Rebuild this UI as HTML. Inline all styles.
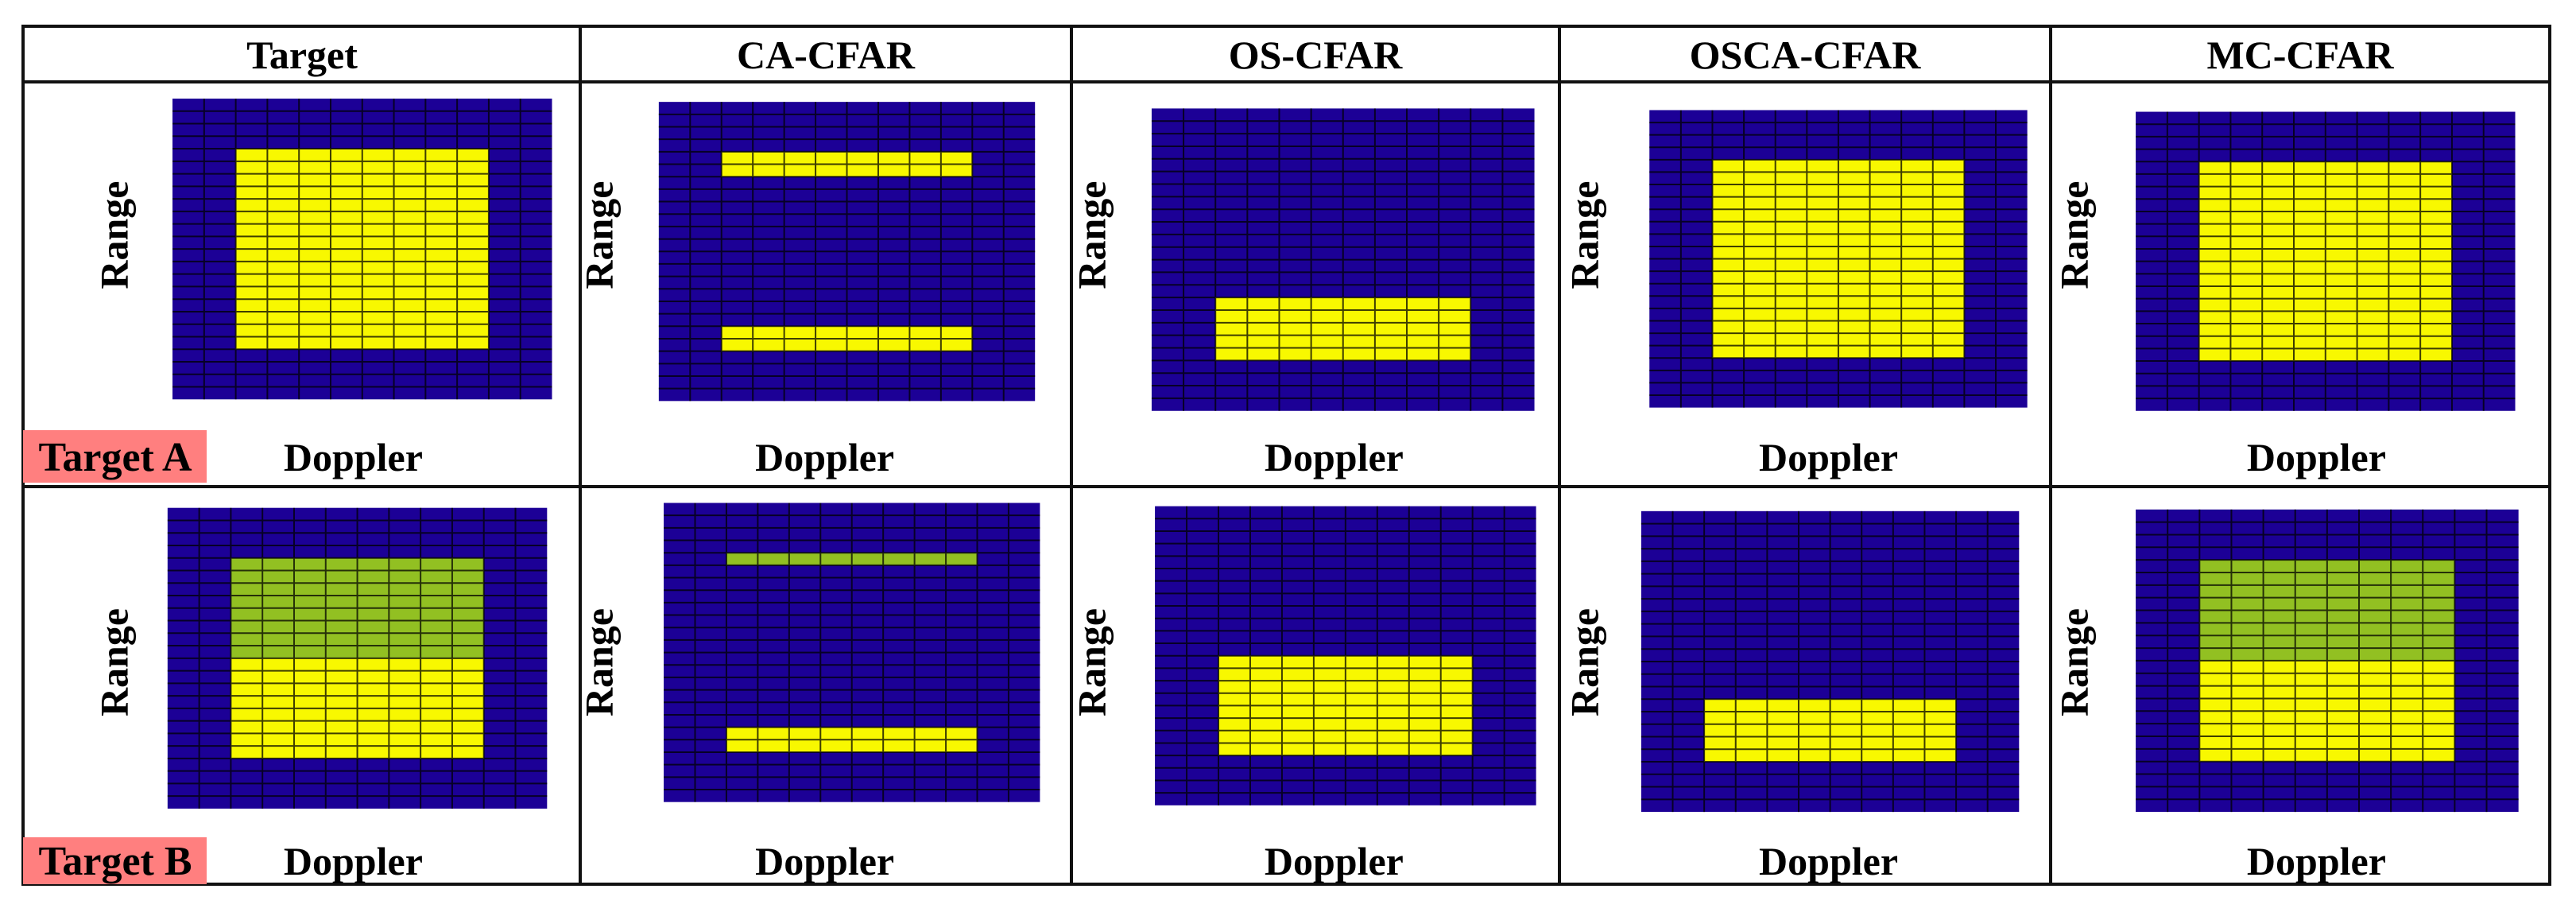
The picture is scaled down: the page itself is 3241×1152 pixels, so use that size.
<!DOCTYPE html>
<html><head><meta charset="utf-8"><style>
html,body{margin:0;padding:0;background:#fff;}
svg{display:block;}
text{font-family:"Liberation Serif",serif;font-weight:bold;fill:#000;}
</style></head><body>
<svg id="chart" width="3241" height="1152" viewBox="0 0 3241 1152" xmlns="http://www.w3.org/2000/svg">
<rect x="0" y="0" width="3241" height="1152" fill="#fff"/>
<g id="table" stroke="#111" stroke-width="4" fill="none">
<rect x="29" y="33" width="3179" height="1079"/>
<line x1="29" y1="103" x2="3208" y2="103"/>
<line x1="29" y1="612" x2="3208" y2="612"/>
<line x1="730" y1="33" x2="730" y2="1112"/>
<line x1="1348" y1="33" x2="1348" y2="1112"/>
<line x1="1962" y1="33" x2="1962" y2="1112"/>
<line x1="2580" y1="33" x2="2580" y2="1112"/>
</g>
<g id="headers"></g>
<g id="panels"></g>
<g id="badges">
<rect x="29" y="541" width="231" height="66" fill="#ff7f7f"/>
<text x="145" y="592" font-size="52" text-anchor="middle">Target A</text>
<rect x="29" y="1053" width="231" height="59" fill="#ff7f7f"/>
<text x="145" y="1100" font-size="52" text-anchor="middle">Target B</text>
</g>
</svg>
<script>
// Data: column titles and detected regions (row ranges / column ranges in a 24x12 cell grid)
const columnTitles = ["Target","CA-CFAR","OS-CFAR","OSCA-CFAR","MC-CFAR"];
const gridRows = 24;
const gridCols = 12;
// each region: [panelIndex, rowStart, rowEnd(inclusive), colStart, colEnd(inclusive), kind]
const regionsA = [
  [0,4,19,2,9,"yellow"],
  [1,4,5,2,9,"yellow"],[1,18,19,2,9,"yellow"],
  [2,15,19,2,9,"yellow"],
  [3,4,19,2,9,"yellow"],
  [4,4,19,2,9,"yellow"]
];
const regionsB = [
  [0,4,11,2,9,"green"],[0,12,19,2,9,"yellow"],
  [1,4,4,2,9,"green"],[1,18,19,2,9,"yellow"],
  [2,12,19,2,9,"yellow"],
  [3,15,19,2,9,"yellow"],
  [4,4,11,2,9,"green"],[4,12,19,2,9,"yellow"]
];

// Layout (pixels)
const S = 3241/1568;
const colCenters = [380,1039,1655,2271,2894];
const boxesA = [[105,60,336,243],[401,62,630,244],[701,66,934,250],[1004,67,1234,248],[1300,68,1531,250]];
const boxesB = [[102,309,333,492],[404,306,633,488],[703,308,935,490],[999,311,1229,494],[1300,310,1533,494]];
const rangeX = [70,365,665,965,1263];
const dopplerX = [215,502,812,1113,1410];
const colors = {blue:"#1c0096",yellow:"#f8f800",green:"#92c022"};
const NS = "http://www.w3.org/2000/svg";

function mk(tag, attrs, parent){
  const e = document.createElementNS(NS, tag);
  for (const k in attrs) e.setAttribute(k, attrs[k]);
  parent.appendChild(e);
  return e;
}
const headers = document.getElementById('headers');
columnTitles.forEach((t,i)=>{
  const e = mk('text',{x:colCenters[i],y:86,'font-size':50,'text-anchor':'middle'},headers);
  
  
  e.textContent = t;
});

const panels = document.getElementById('panels');
function drawPanel(box, regions, idx, rowName, labelY, rangeY){
  const x0 = box[0]*S, y0 = box[1]*S, x1 = box[2]*S, y1 = box[3]*S;
  const cw = (x1-x0)/gridCols, rh = (y1-y0)/gridRows;
  const xs = c => x0 + c*cw;
  const ys = r => y0 + r*rh;
  const g = mk('g',{},panels);
  
  
  const bg = mk('rect',{x:x0,y:y0,width:x1-x0,height:y1-y0,fill:colors.blue},g);
  
  
  regions.filter(r=>r[0]===idx).forEach(r=>{
    const e = mk('rect',{x:xs(r[3]),y:ys(r[1]),width:xs(r[4]+1)-xs(r[3]),height:ys(r[2]+1)-ys(r[1]),fill:colors[r[5]]},g);
    
    
  });
  let d = "";
  for (let r=1;r<gridRows;r++) d += `M${x0} ${ys(r)}H${x1}`;
  for (let c=1;c<gridCols;c++) d += `M${xs(c)} ${y0}V${y1}`;
  const ln = mk('path',{d:d,stroke:"#000",'stroke-width':2,'stroke-opacity':0.75,fill:'none'},g);
  
  
  const rx = rangeX[idx]*S, ry = rangeY*S;
  const rt = mk('text',{x:rx,y:ry,'font-size':50,'text-anchor':'middle',transform:`rotate(-90 ${rx} ${ry})`,dy:16},g);
  
  
  rt.textContent = "Range";
  const dt = mk('text',{x:dopplerX[idx]*S,y:labelY,'font-size':50,'text-anchor':'middle'},g);
  
  
  dt.textContent = "Doppler";
}
boxesA.forEach((b,i)=>drawPanel(b, regionsA, i, 'target-a', 592, 143));
boxesB.forEach((b,i)=>drawPanel(b, regionsB, i, 'target-b', 1100, 403));
</script>
</body></html>
